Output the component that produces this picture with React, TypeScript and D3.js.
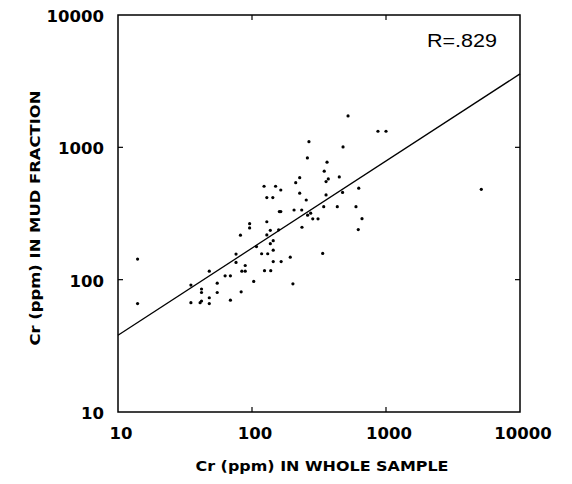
import React from "react";
import * as d3 from "d3";

// Cr (ppm) in whole sample vs Cr (ppm) in mud fraction
const wholeSample = [
  14, 14, 35, 35, 42, 42, 42, 41, 48, 48, 48, 55, 55, 63, 69, 69, 76, 76, 83, 82,
  84, 89, 89, 96, 96, 103, 108, 118, 131, 123, 150, 129, 143, 164, 129, 124, 138, 137, 158, 129,
  144, 137, 144, 144, 165, 160, 164, 193, 202, 206, 235, 212, 227, 227, 236, 254, 266, 259, 274, 260,
  284, 311, 337, 343, 346, 363, 357, 371, 357, 433, 448, 474, 478, 521, 597, 626, 621, 662, 871, 1000,
  5142,
];
const mudFraction = [
  143, 66, 91, 67, 85, 80, 69, 67, 116, 73, 66, 94, 80, 107, 107, 70, 156, 135, 81, 217,
  116, 116, 128, 265, 246, 97, 178, 157, 157, 508, 508, 417, 417, 476, 274, 117, 117, 236, 238, 218,
  197, 187, 167, 137, 137, 327, 327, 148, 93, 336, 336, 541, 590, 450, 249, 400, 1104, 832, 318, 307,
  288, 288, 158, 356, 660, 772, 551, 577, 437, 356, 598, 456, 1007, 1727, 356, 491, 239, 289, 1323, 1323,
  482,
];
// regression line end points
const lineX = [10, 10000];
const lineY = [38, 3590];

const tickValues = [10, 100, 1000, 10000];
const xTitle = "Cr (ppm) IN WHOLE SAMPLE";
const yTitle = "Cr (ppm) IN MUD FRACTION";
const rLabel = "R=.829";

export default function App() {
  const left = 118, right = 520, top = 15, bottom = 412;
  const x = d3.scaleLog().domain([10, 10000]).range([left, right]);
  const y = d3.scaleLog().domain([10, 10000]).range([bottom, top]);
  const line = d3
    .line<number>()
    .x((_, i) => x(lineX[i]))
    .y((_, i) => y(lineY[i]));
  const numFont = "'DejaVu Sans', sans-serif";
  return (
    <svg
      width={572}
      height={484}
      style={{ position: "absolute", left: 0, top: 0, background: "#fff" }}
    >
      <rect x={0} y={0} width={572} height={484} fill="#fff" />
      <rect
        x={left}
        y={top}
        width={right - left}
        height={bottom - top}
        fill="none"
        stroke="#000"
        strokeWidth={1.5}
      />
      {tickValues.slice(1, 3).map((t) => (
        <g key={"t" + t} stroke="#000" strokeWidth={1.2}>
          <line x1={x(t)} x2={x(t)} y1={bottom} y2={bottom - 5} />
          <line x1={x(t)} x2={x(t)} y1={top} y2={top + 5} />
          <line x1={left} x2={left + 5} y1={y(t)} y2={y(t)} />
          <line x1={right} x2={right - 5} y1={y(t)} y2={y(t)} />
        </g>
      ))}
      {tickValues.map((t) => (
        <text
          key={"xl" + t}
          x={x(t) + 3}
          y={439}
          textAnchor="middle"
          fontFamily={numFont}
          fontWeight="bold"
          fontSize={16.5}
          fill="#000"
        >
          {t}
        </text>
      ))}
      {tickValues.map((t) => (
        <text
          key={"yl" + t}
          x={104}
          y={y(t) + 7}
          textAnchor="end"
          fontFamily={numFont}
          fontWeight="bold"
          fontSize={16.5}
          fill="#000"
        >
          {t}
        </text>
      ))}
      <path d={line(lineX) || ""} fill="none" stroke="#000" strokeWidth={1.3} />
      {wholeSample.map((v, i) => (
        <circle key={i} cx={x(v)} cy={y(mudFraction[i])} r={1.6} fill="#000" />
      ))}
      <text
        x={322}
        y={471}
        textAnchor="middle"
        fontFamily={numFont}
        fontWeight="bold"
        fontSize={14}
        textLength={253}
        lengthAdjust="spacingAndGlyphs"
        fill="#000"
      >
        {xTitle}
      </text>
      <text
        transform={`translate(40,218) rotate(-90)`}
        textAnchor="middle"
        fontFamily={numFont}
        fontWeight="bold"
        fontSize={14}
        textLength={255}
        lengthAdjust="spacingAndGlyphs"
        fill="#000"
      >
        {yTitle}
      </text>
      <text
        x={427}
        y={47}
        fontFamily="'Liberation Sans', Arial, sans-serif"
        fontSize={19}
        textLength={70}
        lengthAdjust="spacingAndGlyphs"
        fill="#000"
      >
        {rLabel}
      </text>
    </svg>
  );
}
